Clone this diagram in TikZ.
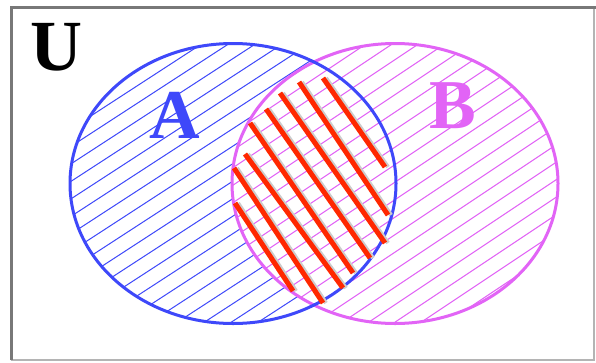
\documentclass[tikz,border=0pt]{standalone}
\usepackage{fontspec}
\setmainfont{Liberation Serif}
\definecolor{ablue}{RGB}{62,72,250}
\definecolor{bpink}{RGB}{226,100,246}
\definecolor{ired}{RGB}{255,40,0}
\definecolor{framedark}{RGB}{120,120,120}
\definecolor{framelight}{RGB}{180,180,180}
\tikzset{
  hatchA/.style={ablue, line width=1pt},
  hatchB/.style={bpink, line width=1pt},
  redbar/.style={ired, line width=5pt},
  redshadow/.style={black!20, line width=4pt},
  label/.style={inner sep=0pt, font=\bfseries\fontsize{70}{70}\selectfont}
}
\begin{document}
\begin{tikzpicture}[x=1pt,y=-1pt]
\useasboundingbox (0,0) rectangle (596,362);
\fill[white] (0,0) rectangle (596,362);
% frame
\draw[framelight, line width=2pt] (594,7) -- (594,360) -- (11,360);
\draw[framedark, line width=3pt] (11,360) -- (11,7) -- (596,7);
% hatching of A
\begin{scope}
  \clip (233,183.5) ellipse [x radius=163, y radius=140];
  \foreach \c in {0,17.5,...,800} {
    \draw[hatchA] (0,\c) -- (600,\c-390);
  }
\end{scope}
% hatching of B (erases A hatching in the overlap)
\begin{scope}
  \clip (395,183.5) ellipse [x radius=163, y radius=140];
  \fill[white] (200,0) rectangle (600,362);
  \foreach \c in {8,25.5,...,800} {
    \draw[hatchB] (0,\c) -- (600,\c-400);
  }
\end{scope}
% outlines
\draw[bpink, line width=3pt] (395,183.5) ellipse [x radius=163, y radius=140];
\draw[ablue, line width=3pt] (233,183.5) ellipse [x radius=163, y radius=140];
% red bars in the intersection
\foreach \xa/\ya/\xb/\yb in {323/78/385/167, 299/82/388/215, 280/93/385/243, 266/109/370/258, 250/123/353/273, 245/154/343/288, 234/168/323/303, 235/203/293/291} {
  \draw[redshadow] (\xa+3,\ya) -- (\xb+3,\yb);
  \draw[redbar] (\xa,\ya) -- (\xb,\yb);
}
% labels
\node[inner sep=0pt, font=\bfseries\fontsize{72}{72}\selectfont] (U) at (56,47) {U};
\node[label, ablue] (A) at (175,115) {A};
\node[label, bpink] (B) at (453,106) {B};
\end{tikzpicture}
\end{document}
